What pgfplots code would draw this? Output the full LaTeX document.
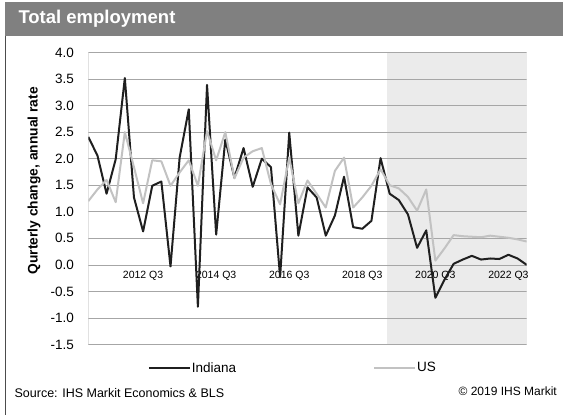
\documentclass[border=0pt]{standalone}
\usepackage{fontspec}
\setmainfont{Liberation Sans}
\usepackage{pgfplots}
\usepackage{pgfplotstable}
\pgfplotsset{compat=1.18}

\pgfplotstableread{
idx indiana us
0 2.41 1.20
1 2.06 1.42
2 1.34 1.60
3 1.99 1.18
4 3.52 2.50
5 1.27 1.84
6 0.63 1.16
7 1.49 1.97
8 1.57 1.95
9 -0.03 1.49
10 2.02 1.74
11 2.93 1.97
12 -0.79 1.49
13 3.39 2.52
14 0.57 1.97
15 2.36 2.50
16 1.64 1.63
17 2.20 2.02
18 1.47 2.14
19 2.00 2.20
20 1.84 1.52
21 -0.23 1.14
22 2.49 2.02
23 0.55 1.16
24 1.46 1.59
25 1.27 1.34
26 0.55 1.08
27 0.93 1.77
28 1.66 2.02
29 0.71 1.08
30 0.68 1.27
31 0.83 1.49
32 2.01 1.80
33 1.34 1.50
34 1.22 1.44
35 0.95 1.28
36 0.32 1.02
37 0.65 1.42
38 -0.62 0.08
39 -0.28 0.31
40 0.02 0.56
41 0.10 0.54
42 0.17 0.53
43 0.10 0.52
44 0.12 0.55
45 0.11 0.53
46 0.19 0.51
47 0.12 0.48
48 0.00 0.44
}\datatable

\begin{document}
\begin{tikzpicture}
\path (0pt,0pt) rectangle (563pt,-415pt);
% title band
\fill[black!50] (5pt,-2pt) rectangle (563pt,-36pt);
\node[anchor=west, text=white, inner sep=0pt, font=\bfseries\fontsize{18.5}{20}\selectfont] at (18.3pt,-19pt) {Total employment};
% left frame line
\draw[black!70, line width=0.8pt] (5pt,-36pt) -- (5pt,-414.6pt);

\begin{axis}[
  set layers,
  at={(88.3pt,-344.5pt)}, anchor=south west,
  scale only axis, width=438.4pt, height=292pt,
  xmin=0, xmax=48, ymin=-1.5, ymax=4,
  axis x line=middle, axis y line=left,
  x axis line style={draw=none,-},
  y axis line style={draw=none,-},
  tick style={draw=none},
  xtick={6,14,22,30,38,46},
  xticklabels={2012 Q3,2014 Q3,2016 Q3,2018 Q3,2020 Q3,2022 Q3},
  xticklabel style={font=\fontsize{10.5}{12}\selectfont, anchor=north, inner sep=0pt, yshift=-4pt},
  ytick={-1.5,-1,-0.5,0,0.5,1,1.5,2,2.5,3,3.5,4},
  yticklabel style={font=\fontsize{13.5}{15}\selectfont, anchor=east, inner sep=0pt, xshift=-12pt,
     /pgf/number format/.cd, fixed, fixed zerofill, precision=1, assume math mode=true},
  ylabel={Qurterly change, annual rate},
  ylabel style={font=\bfseries\fontsize{13.8}{15}\selectfont, at={(axis description cs:-0.1239,0.5606)}, anchor=center},
  legend columns=2,
  legend style={at={(0.1355,-0.0805)}, anchor=west, draw=none, fill=none, inner sep=0pt,
     font=\fontsize{13.5}{15}\selectfont,
     nodes={inner sep=1pt, anchor=west},
     /tikz/every even column/.append style={column sep=136pt}},
  legend image code/.code={\draw[#1] (0pt,0pt) -- (41pt,0pt);},
]
\addplot[fill=black!8, draw=none, on layer=axis background, forget plot] coordinates {(32.67,-1.5) (48,-1.5) (48,4) (32.67,4)} -- cycle;
\addplot[black!18, line width=0.8pt, forget plot] coordinates {(0,-1.5) (0,4)};
\addplot[black!35, line width=0.7pt, forget plot] coordinates {(0,-1.5) (48,-1.5)};
\addplot[black!35, line width=0.7pt, forget plot] coordinates {(0,-1) (48,-1)};
\addplot[black!35, line width=0.7pt, forget plot] coordinates {(0,-0.5) (48,-0.5)};
\addplot[black!35, line width=0.7pt, forget plot] coordinates {(0,0) (48,0)};
\addplot[black!35, line width=0.7pt, forget plot] coordinates {(0,0.5) (48,0.5)};
\addplot[black!35, line width=0.7pt, forget plot] coordinates {(0,1) (48,1)};
\addplot[black!35, line width=0.7pt, forget plot] coordinates {(0,1.5) (48,1.5)};
\addplot[black!35, line width=0.7pt, forget plot] coordinates {(0,2) (48,2)};
\addplot[black!35, line width=0.7pt, forget plot] coordinates {(0,2.5) (48,2.5)};
\addplot[black!35, line width=0.7pt, forget plot] coordinates {(0,3) (48,3)};
\addplot[black!35, line width=0.7pt, forget plot] coordinates {(0,3.5) (48,3.5)};
\addplot[black!35, line width=0.7pt, forget plot] coordinates {(0,4) (48,4)};
\addplot[color=black!88, line width=2pt, line join=round] table[x=idx, y=indiana]{\datatable};
\addlegendentry{Indiana}
\addplot[color=black!24, line width=2pt, line join=round] table[x=idx, y=us]{\datatable};
\addlegendentry{US}
\end{axis}

\node[anchor=west, inner sep=0pt, font=\fontsize{12.5}{14}\selectfont] at (14.4pt,-393pt) {Source: IHS Markit Economics \& BLS};
\node[anchor=east, inner sep=0pt, font=\fontsize{12}{14}\selectfont] at (557pt,-391pt) {© 2019 IHS Markit};
\end{tikzpicture}
\end{document}
